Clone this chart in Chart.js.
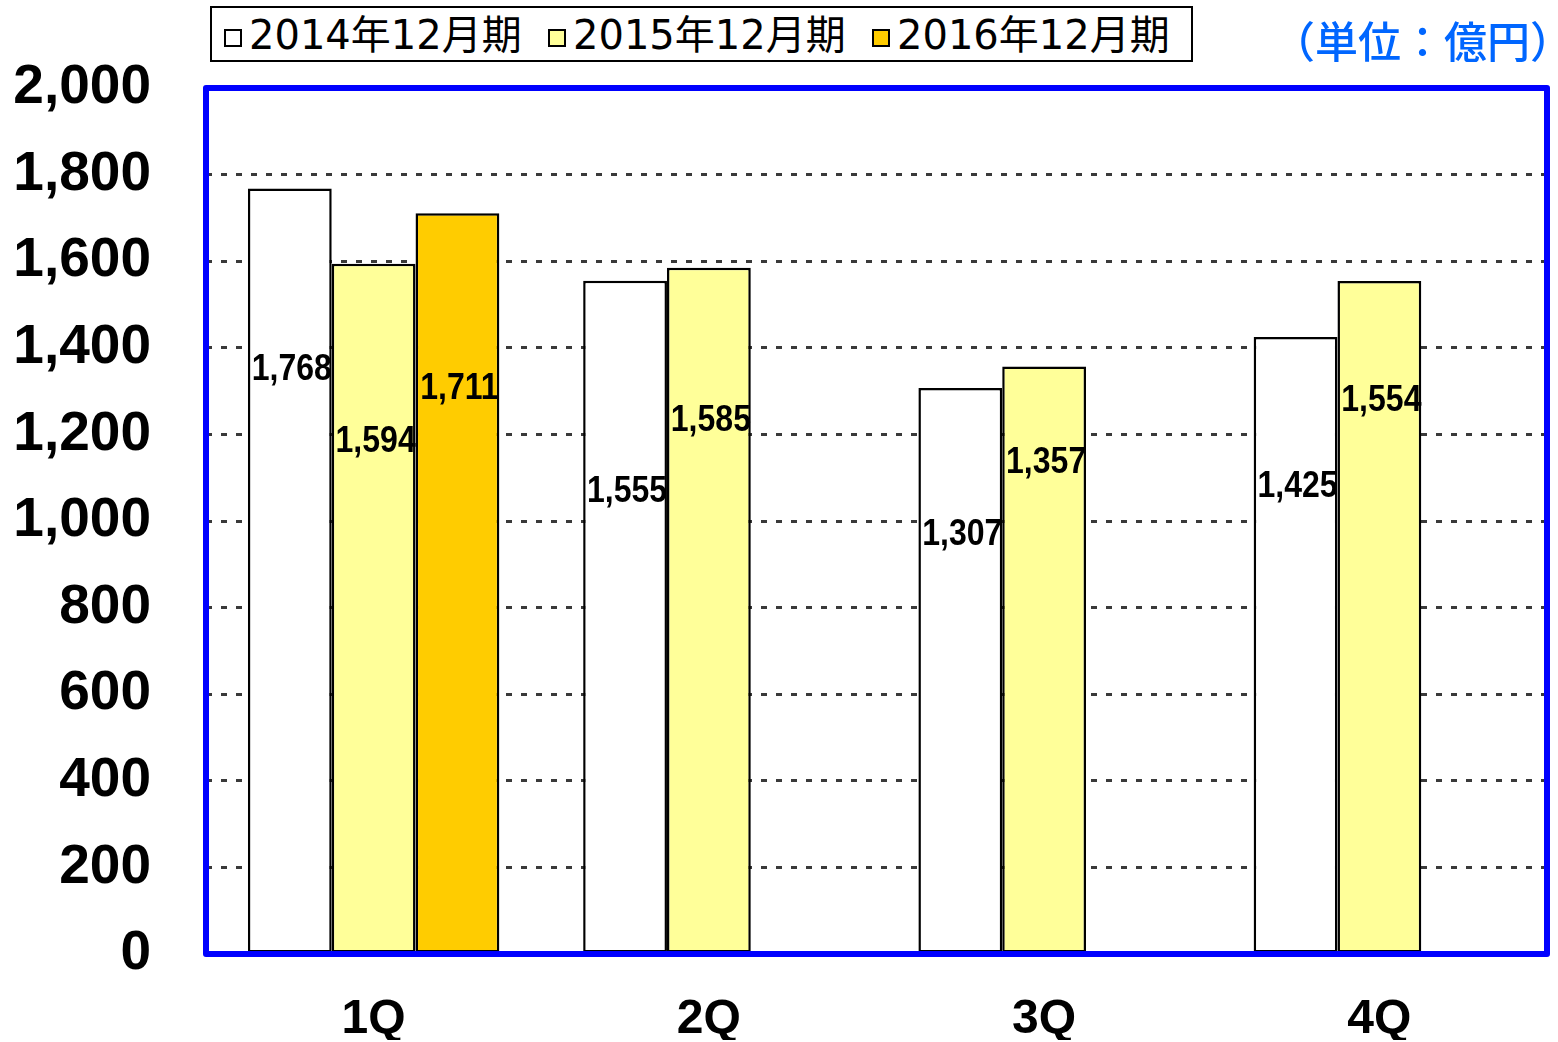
<!DOCTYPE html>
<html>
<head>
<meta charset="utf-8">
<script src="https://cdn.jsdelivr.net/npm/chart.js@4"></script>
<style>
    body { margin: 0; background: #fff; }
    #wrap { position: relative; width: 1558px; height: 1042px; }
    #chart { position: absolute; left: 0; top: 0; }
    #legend {
        position: absolute; left: 210px; top: 6px; width: 983px; height: 56px;
        box-sizing: border-box; border: 2px solid #000; background: #fff;
    }
    .item {
        position: absolute; top: 4px; height: 46px; line-height: 46px;
        font-family: "DejaVu Sans", "Noto Sans CJK JP", sans-serif; font-size: 40px; color: #000;
        white-space: nowrap;
    }
    .item i {
        display: inline-block; width: 14px; height: 14px; border: 2px solid #000;
        margin-right: 7px; vertical-align: 2px;
    }
    #unit {
        position: absolute; left: 1272px; top: 12px; line-height: 54px;
        font-family: "Noto Sans CJK JP", sans-serif; font-size: 43px; font-weight: 500; color: #0066ff;
        white-space: nowrap;
    }
</style>
</head>
<body>
<div id="wrap">
    <canvas id="chart" width="1558" height="1042"></canvas>
    <div id="legend"></div>
    <div id="unit">（単位：億円）</div>
</div>
<script>
const quarters = ['1Q', '2Q', '3Q', '4Q'];
const seriesNames = ['2014年12月期', '2015年12月期', '2016年12月期'];
const sales2014 = [1768, 1555, 1307, 1425];
const sales2015 = [1594, 1585, 1357, 1554];
const sales2016 = [1711, null, null, null];
const yTicks = [0, 200, 400, 600, 800, 1000, 1200, 1400, 1600, 1800, 2000];

const colors = ['#ffffff', '#ffff99', '#ffcc00'];
// where the value label sits, as a share of the bar height
const labelHeights = [
    [0.763, 0.686, 0.741, 0.757],
    [0.741, 0.776, 0.835, 0.821],
    [0.763]
];

const legend = document.getElementById('legend');
seriesNames.forEach(function (name, i) {
    const item = document.createElement('div');
    item.className = 'item';
    item.style.left = (12 + i * 324) + 'px';
    item.innerHTML = '<i style="background:' + colors[i] + '"></i>' + name;
    legend.appendChild(item);
});

const valueLabels = {
    id: 'valueLabels',
    afterDatasetsDraw(chart) {
        const ctx = chart.ctx;
        const base = chart.scales.y.getPixelForValue(0);
        ctx.save();
        ctx.fillStyle = '#000';
        ctx.font = 'bold 36px "Liberation Sans", Arial, sans-serif';
        ctx.textAlign = 'center';
        ctx.textBaseline = 'middle';
        chart.data.datasets.forEach(function (ds, di) {
            chart.getDatasetMeta(di).data.forEach(function (bar, i) {
                const v = ds.data[i];
                if (v == null) return;
                const y = base - labelHeights[di][i] * (base - bar.y);
                ctx.save();
                ctx.translate(bar.x + 2, y);
                ctx.scale(0.89, 1);
                ctx.fillText(v.toLocaleString('en-US'), 0, 0);
                ctx.restore();
            });
        });
        ctx.restore();
    }
};

const blueFrame = {
    id: 'blueFrame',
    afterDraw(chart) {
        const a = chart.chartArea;
        const ctx = chart.ctx;
        ctx.save();
        ctx.strokeStyle = '#0000ff';
        ctx.lineWidth = 6;
        ctx.lineJoin = 'round';
        ctx.strokeRect(a.left, a.top, a.right - a.left, a.bottom - a.top);
        ctx.restore();
    }
};

new Chart(document.getElementById('chart'), {
    type: 'bar',
    data: {
        labels: quarters,
        datasets: [sales2014, sales2015, sales2016].map(function (d, i) {
            return {
                label: seriesNames[i],
                data: d,
                backgroundColor: colors[i],
                borderColor: '#000',
                borderWidth: 2.5,
                borderSkipped: false,
                categoryPercentage: 0.75,
                barPercentage: 1.0
            };
        })
    },
    options: {
        responsive: false,
        animation: false,
        layout: { padding: { top: 88, right: 11, left: 0, bottom: 0 } },
        plugins: { legend: { display: false }, tooltip: { enabled: false } },
        scales: {
            x: {
                grid: { display: false },
                border: { display: false },
                ticks: {
                    color: '#000',
                    padding: 29,
                    font: { family: '"Liberation Sans", Arial, sans-serif', size: 48, weight: 'bold' }
                },
                afterFit: function (s) { s.height = 86; }
            },
            y: {
                min: 0,
                max: 2000,
                afterBuildTicks: function (s) { s.ticks = yTicks.map(function (v) { return { value: v }; }); },
                grid: {
                    color: '#3a3a3a',
                    lineWidth: 3,
                    drawTicks: false
                },
                border: { display: false, dash: [6, 9] },
                ticks: {
                    color: '#000',
                    padding: 55,
                    font: { family: '"Liberation Sans", Arial, sans-serif', size: 55, weight: 'bold' },
                    callback: function (v) { return v.toLocaleString('en-US'); }
                },
                afterFit: function (s) { s.width = 206; }
            }
        }
    },
    plugins: [valueLabels, blueFrame]
});
</script>
</body>
</html>
